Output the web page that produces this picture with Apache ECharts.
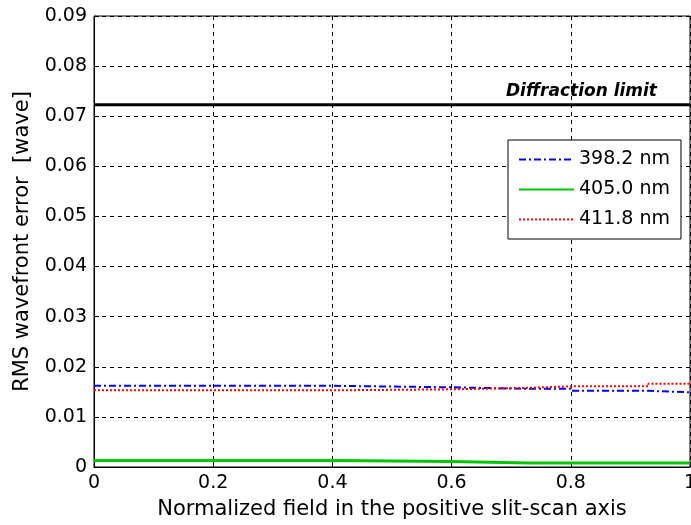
<!DOCTYPE html>
<html>
<head>
<meta charset="utf-8">
<script src="https://cdn.jsdelivr.net/npm/echarts@6/dist/echarts.min.js"></script>
<style>
  html, body { margin: 0; padding: 0; background: #fff; }
  #chart { width: 691px; height: 525px; }
</style>
</head>
<body>
<div id="chart"></div>
<script>
// field positions where the curves change value
const fieldX = [0, 0.4, 0.6, 0.73, 0.8, 0.93, 1];
const rms398 = [0.0162, 0.0159, 0.0156, 0.0156, 0.0152, 0.0149, 0.0149];
const rms405 = [0.0013, 0.0011, 0.0008, 0.0008, 0.0008, 0.0008, 0.0008];
const rms411 = [0.0153, 0.0155, 0.0158, 0.0161, 0.0161, 0.0166, 0.0166];
const limitX = [0, 1];
const limitY = [0.0723, 0.0723];

const pairs = (xs, ys) => xs.map((x, i) => [x, ys[i]]);

const FONT = 'DejaVu Sans';
const axisFont = { fontFamily: FONT, fontSize: 19, color: '#000' };
const gridLine = { show: true, lineStyle: { color: '#000', type: [4, 4], width: 1 } };
const innerTick = { show: true, inside: true, length: 5, lineStyle: { color: '#000' } };

const getOption = () => {
    return {
        animation: false,
        grid: {
            left: 94, top: 16, right: 1, bottom: 58,
            outerBoundsMode: 'none',
            containLabel: false,
            show: true, borderColor: '#000', borderWidth: 1
        },
        legend: {
            orient: 'vertical',
            left: 508, top: 140,
            padding: [10, 11, 10, 10],
            itemGap: 11,
            itemWidth: 55,
            itemHeight: 20,
            backgroundColor: '#fff',
            borderColor: '#000',
            borderWidth: 1,
            borderRadius: 0,
            itemStyle: { opacity: 0 },
            textStyle: { fontFamily: FONT, fontSize: 19, color: '#000' },
            data: ['398.2 nm', '405.0 nm', '411.8 nm']
        },
        xAxis: {
            type: 'value',
            min: 0, max: 1, interval: 0.2,
            name: 'Normalized field in the positive slit-scan axis',
            nameLocation: 'middle',
            nameGap: 32,
            nameTextStyle: { fontFamily: FONT, fontSize: 21, color: '#000' },
            axisLine: { lineStyle: { color: '#000', width: 1 } },
            axisTick: innerTick,
            axisLabel: Object.assign({ margin: 7, formatter: v => v === 0 || v === 1 ? String(v) : v.toFixed(1) }, axisFont),
            splitLine: gridLine
        },
        yAxis: {
            type: 'value',
            min: 0, max: 0.09, interval: 0.01,
            name: 'RMS wavefront error  [wave]',
            nameLocation: 'middle',
            nameGap: 61,
            nameTextStyle: { fontFamily: FONT, fontSize: 21, color: '#000' },
            axisLine: { show: true, lineStyle: { color: '#000', width: 1 } },
            axisTick: innerTick,
            axisLabel: Object.assign({ margin: 7, formatter: v => v === 0 ? '0' : v.toFixed(2) }, axisFont),
            splitLine: gridLine
        },
        series: [
            {
                name: 'Diffraction limit',
                type: 'line',
                symbol: 'none',
                data: pairs(limitX, limitY),
                lineStyle: { color: '#000', width: 3, type: 'solid' },
                itemStyle: { color: '#000' },
                z: 6,
                endLabel: {
                    show: true,
                    formatter: 'Diffraction limit',
                    align: 'right',
                    distance: 0,
                    offset: [-33, -13],
                    fontFamily: FONT,
                    fontStyle: 'italic',
                    fontWeight: 'bold',
                    fontSize: 17,
                    color: '#000'
                }
            },
            {
                name: '398.2 nm',
                type: 'line',
                step: 'end',
                symbol: 'none',
                data: pairs(fieldX, rms398),
                lineStyle: { color: '#0000ff', width: 2, type: [7, 3, 2, 3] },
                itemStyle: { color: '#0000ff' },
                z: 4
            },
            {
                name: '405.0 nm',
                type: 'line',
                step: 'end',
                symbol: 'none',
                data: pairs(fieldX, rms405),
                lineStyle: { color: '#00c800', width: 3, type: 'solid' },
                itemStyle: { color: '#00c800' },
                z: 3
            },
            {
                name: '411.8 nm',
                type: 'line',
                step: 'end',
                symbol: 'none',
                data: pairs(fieldX, rms411),
                lineStyle: { color: '#ff0000', width: 2, type: [2, 2] },
                itemStyle: { color: '#ff0000' },
                z: 5
            }
        ]
    };
}

const chart = echarts.init(document.getElementById('chart'));
chart.setOption(getOption());
</script>
</body>
</html>
